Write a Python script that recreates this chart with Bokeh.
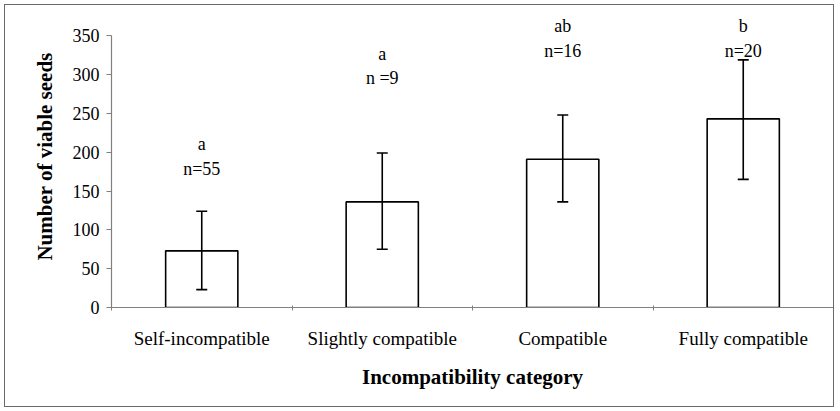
from bokeh.plotting import figure
from bokeh.models import (ColumnDataSource, Range1d, FixedTicker, Whisker, TeeHead)
from bokeh.core.properties import value
from bokeh.embed import file_html
from bokeh.resources import INLINE

# ---- data ----
categories = ["Self-incompatible", "Slightly compatible", "Compatible", "Fully compatible"]
mean_seeds = [73, 136, 191, 243]
upper_err = [124, 199, 248, 319]
lower_err = [23, 75, 136, 165]
group_letters = ["a", "a", "ab", "b"]
sample_sizes = ["n=55", "n =9", "n=16", "n=20"]
letter_height = [210, 327, 363, 363]   # data-y of letter annotation baseline
n_height = [179, 296, 331, 331]        # data-y of sample-size annotation baseline
y_ticks = [0, 50, 100, 150, 200, 250, 300, 350]

centers = [i + 0.5 for i in range(len(categories))]
boundaries = list(range(len(categories) + 1))

src = ColumnDataSource(dict(x=centers, top=mean_seeds, upper=upper_err, lower=lower_err,
                            letter=group_letters, ly=letter_height, n=sample_sizes, ny=n_height))

FONT = "Liberation Serif"

p = figure(width=830, height=403, output_backend="svg", toolbar_location=None,
           x_range=Range1d(0, len(categories)), y_range=Range1d(0, 389),
           min_border_left=106, min_border_right=2, min_border_top=0, min_border_bottom=101)
p.title = None
p.styles = {"margin-left": "4px", "margin-top": "4px", "border": "1px solid #6a6a6a"}
p.outline_line_color = None
p.background_fill_color = "white"
p.border_fill_color = "white"
p.xgrid.visible = False
p.ygrid.visible = False

p.vbar(x="x", top="top", bottom=0, width=0.4, source=src, fill_color="white",
       line_color="black", line_width=1.6)

wh = Whisker(base="x", upper="upper", lower="lower", source=src, line_width=1.6,
             line_color="black", level="overlay",
             upper_head=TeeHead(size=11, line_width=1.6, line_color="black"),
             lower_head=TeeHead(size=11, line_width=1.6, line_color="black"))
p.add_layout(wh)

p.text(x="x", y="ly", text="letter", source=src, text_font=value(FONT), text_font_size="18px",
       text_align="center", text_baseline="alphabetic", text_color="#000000")
p.text(x="x", y="ny", text="n", source=src, text_font=value(FONT), text_font_size="18px",
       text_align="center", text_baseline="alphabetic", text_color="#000000")

# y axis
ya = p.yaxis[0]
ya.ticker = FixedTicker(ticks=y_ticks)
ya.bounds = (0, 350)
ya.axis_line_color = "#808080"
ya.axis_line_width = 1.2
ya.major_tick_line_color = "#808080"
ya.major_tick_out = 5
ya.major_tick_in = 0
ya.minor_tick_line_color = None
ya.major_label_text_font = FONT
ya.major_label_text_font_size = "18px"
ya.major_label_text_color = "#000000"
ya.major_label_standoff = 7
ya.axis_label = "Number of viable seeds"
ya.axis_label_text_font = FONT
ya.axis_label_text_font_size = "21px"
ya.axis_label_text_font_style = "bold"
ya.axis_label_text_color = "#000000"
ya.axis_label_standoff = 13

# x axis
xa = p.xaxis[0]
xa.ticker = FixedTicker(ticks=centers, minor_ticks=boundaries)
xa.major_label_overrides = {c: lab for c, lab in zip(centers, categories)}
xa.axis_line_color = "#808080"
xa.axis_line_width = 1.2
xa.major_tick_line_color = None
xa.major_tick_out = 0
xa.major_tick_in = 0
xa.minor_tick_line_color = "#808080"
xa.minor_tick_out = 3
xa.minor_tick_in = 2
xa.major_label_text_font = FONT
xa.major_label_text_font_size = "19px"
xa.major_label_text_color = "#000000"
xa.major_label_standoff = 17
xa.axis_label = "Incompatibility category"
xa.axis_label_text_font = FONT
xa.axis_label_text_font_size = "21px"
xa.axis_label_text_font_style = "bold"
xa.axis_label_text_color = "#000000"
xa.axis_label_standoff = 13

open("out.html", "w").write(file_html(p, INLINE))
